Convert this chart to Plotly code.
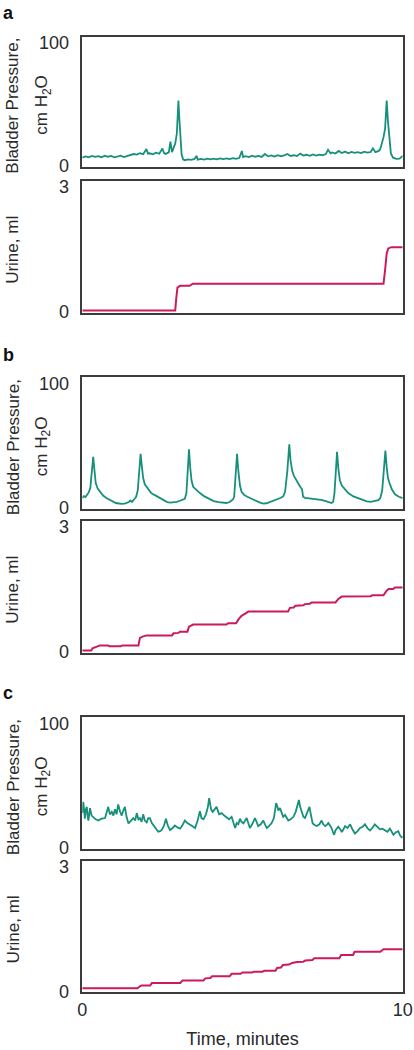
import plotly.graph_objects as go

# ---------------- data ----------------
# Panel a - bladder pressure (cm H2O)
a_p_t = [0.0, 0.1, 0.2, 0.3, 0.4, 0.5, 0.6, 0.7, 0.8, 0.9, 1.0, 1.1, 1.2, 1.3, 1.4, 1.5, 1.6, 1.7, 1.8, 1.9,
         2.0, 2.05, 2.1, 2.2, 2.3, 2.4, 2.5, 2.55, 2.6, 2.7, 2.75, 2.8, 2.85, 2.9, 2.95, 3.0, 3.03, 3.06, 3.1, 3.15,
         3.2, 3.3, 3.4, 3.5, 3.57, 3.6, 3.7, 3.8, 3.9, 4.0, 4.1, 4.2, 4.3, 4.4, 4.5, 4.6, 4.7, 4.8, 4.9, 4.98,
         5.02, 5.1, 5.2, 5.3, 5.4, 5.5, 5.6, 5.7, 5.8, 5.9, 6.0, 6.1, 6.2, 6.3, 6.4, 6.5, 6.6, 6.7, 6.8, 6.9,
         7.0, 7.1, 7.2, 7.3, 7.4, 7.5, 7.6, 7.67, 7.75, 7.8, 7.9, 8.0, 8.1, 8.2, 8.3, 8.4, 8.5, 8.6, 8.7, 8.8,
         8.9, 9.0, 9.07, 9.15, 9.25, 9.3, 9.35, 9.4, 9.45, 9.5, 9.54, 9.58, 9.63, 9.7, 9.8, 9.9, 10.0]
a_p_v = [6.5, 7.5, 6.8, 8.0, 7.2, 7.8, 6.9, 8.2, 7.3, 7.9, 6.8, 7.6, 8.1, 7.0, 7.7, 8.3, 9.5, 9.0, 10.2, 9.4,
         13.5, 9.8, 10.1, 9.3, 10.6, 9.7, 14.0, 10.2, 9.6, 10.8, 19.5, 11.0, 14.0, 18.0, 26.0, 53.0, 38.0, 28.0, 9.0, 5.0,
         4.5, 5.2, 4.8, 5.5, 8.0, 5.0, 5.6, 4.9, 5.7, 5.1, 5.8, 5.2, 6.0, 5.3, 5.9, 5.4, 6.1, 5.6, 6.4, 12.0,
         7.0, 7.8, 7.0, 8.2, 7.3, 8.0, 7.1, 9.5, 7.6, 8.3, 7.4, 8.6, 7.7, 8.4, 9.6, 7.9, 8.5, 7.8, 9.8, 8.2,
         8.9, 8.0, 9.2, 8.3, 9.0, 8.5, 9.4, 13.0, 10.0, 10.8, 9.9, 12.0, 10.3, 11.5, 10.1, 11.2, 10.4, 11.0, 10.2, 11.4,
         10.6, 11.1, 14.0, 11.0, 12.0, 13.5, 18.0, 23.0, 30.0, 53.0, 36.0, 22.0, 10.0, 6.5, 5.5, 5.8, 8.0]

# Panel a - urine (ml)
a_u_t = [0.0, 2.9, 2.93, 2.97, 3.05, 3.35, 3.45, 9.4, 9.45, 9.5, 9.55, 9.65, 10.0]
a_u_v = [0.03, 0.03, 0.3, 0.58, 0.62, 0.62, 0.67, 0.67, 1.0, 1.4, 1.52, 1.55, 1.55]

# Panel b - bladder pressure
b_p_t = [0.0, 0.05, 0.1, 0.15, 0.2, 0.25, 0.3, 0.34, 0.38, 0.42, 0.48, 0.55, 0.65, 0.75, 0.85, 0.95, 1.05, 1.15,
         1.25, 1.35, 1.45, 1.5, 1.55, 1.62, 1.68, 1.73, 1.78, 1.82, 1.86, 1.9, 1.95, 2.05, 2.15, 2.25, 2.35, 2.45,
         2.55, 2.65, 2.75, 2.85, 2.95, 3.05, 3.15, 3.2, 3.25, 3.29, 3.33, 3.37, 3.41, 3.46, 3.55, 3.67, 3.8, 3.95,
         4.1, 4.25, 4.4, 4.5, 4.6, 4.7, 4.74, 4.78, 4.83, 4.87, 4.92, 4.97, 5.05, 5.15, 5.25, 5.4, 5.55, 5.65,
         5.75, 5.85, 5.95, 6.05, 6.12, 6.2, 6.27, 6.33, 6.4, 6.46, 6.5, 6.55, 6.6, 6.7, 6.8, 6.86, 6.89, 6.95,
         7.1, 7.3, 7.45, 7.6, 7.7, 7.78, 7.83, 7.87, 7.91, 7.95, 7.99, 8.04, 8.1, 8.2, 8.3, 8.46, 8.6, 8.75,
         8.88, 9.0, 9.12, 9.24, 9.3, 9.36, 9.41, 9.46, 9.5, 9.54, 9.58, 9.66, 9.76, 9.88, 10.0]
b_p_v = [8.0, 9.5, 8.8, 11.0, 12.5, 16.0, 28.0, 41.0, 30.0, 20.0, 15.5, 13.0, 10.0, 8.0, 6.5, 5.0, 4.0, 3.6,
         3.3, 3.8, 4.8, 6.0, 4.9, 7.0, 9.0, 14.0, 27.0, 43.5, 33.0, 24.0, 19.0, 15.0, 12.0, 10.5, 9.0, 7.2,
         5.8, 4.8, 4.3, 4.6, 5.0, 5.8, 6.8, 7.4, 12.0, 28.0, 47.0, 32.0, 22.0, 17.0, 14.5, 12.0, 9.5, 7.3,
         5.6, 4.8, 4.2, 4.0, 4.8, 6.8, 9.0, 25.0, 43.5, 30.0, 18.0, 13.0, 10.5, 9.0, 8.0, 6.0, 4.3, 3.5,
         3.8, 4.7, 5.8, 6.8, 7.5, 8.2, 9.3, 13.0, 30.0, 51.0, 38.0, 30.0, 26.0, 21.0, 17.0, 15.0, 9.0, 8.2,
         7.8, 7.0, 6.5, 5.5, 4.5, 4.0, 5.0, 12.0, 28.0, 45.0, 32.0, 22.0, 18.0, 14.5, 12.0, 9.3, 8.0, 6.5,
         5.3, 5.0, 5.5, 6.3, 8.0, 14.0, 30.0, 46.0, 33.0, 24.0, 20.7, 15.0, 11.0, 9.0, 8.0]

# Panel b - urine
b_u_t = [0.0, 0.28, 0.32, 0.4, 0.48, 0.55, 0.8, 0.85, 1.2, 1.25, 1.75, 1.8, 1.88, 2.01, 2.8, 2.85, 3.0, 3.05,
         3.28, 3.33, 3.46, 4.5, 4.55, 4.8, 4.88, 4.97, 5.1, 5.18, 6.42, 6.48, 6.6, 6.65, 6.9, 6.95, 7.1, 7.16,
         7.9, 8.0, 8.1, 9.0, 9.05, 9.4, 9.5, 9.56, 9.7, 9.76, 10.0]
b_u_v = [0.03, 0.03, 0.08, 0.11, 0.13, 0.15, 0.15, 0.13, 0.13, 0.15, 0.15, 0.33, 0.36, 0.39, 0.39, 0.44, 0.45, 0.48,
         0.48, 0.6, 0.65, 0.65, 0.68, 0.68, 0.78, 0.86, 0.92, 0.96, 0.96, 1.05, 1.06, 1.1, 1.11, 1.14, 1.15, 1.18,
         1.18, 1.27, 1.32, 1.33, 1.35, 1.35, 1.46, 1.5, 1.5, 1.54, 1.54]

# Panel c - bladder pressure
c_p_t = [0.0, 0.03, 0.06, 0.08, 0.11, 0.14, 0.17, 0.19, 0.22, 0.24, 0.29, 0.34, 0.42, 0.5, 0.6, 0.71, 0.76, 0.81,
         0.86, 0.92, 0.97, 1.02, 1.07, 1.12, 1.18, 1.23, 1.28, 1.33, 1.38, 1.44, 1.52, 1.59, 1.65, 1.7, 1.75, 1.8,
         1.85, 1.9, 1.95, 2.01, 2.06, 2.11, 2.17, 2.22, 2.3, 2.37, 2.43, 2.48, 2.55, 2.61, 2.67, 2.74, 2.82, 2.89,
         2.97, 3.05, 3.12, 3.2, 3.28, 3.36, 3.44, 3.52, 3.6, 3.67, 3.72, 3.78, 3.86, 3.92, 3.96, 4.02, 4.07, 4.13,
         4.19, 4.27, 4.35, 4.43, 4.51, 4.58, 4.66, 4.72, 4.77, 4.82, 4.87, 4.92, 4.97, 5.03, 5.08, 5.13, 5.18, 5.23,
         5.3, 5.39, 5.44, 5.49, 5.57, 5.65, 5.7, 5.76, 5.84, 5.91, 5.98, 6.05, 6.09, 6.12, 6.17, 6.22, 6.27, 6.33,
         6.38, 6.43, 6.5, 6.59, 6.66, 6.72, 6.76, 6.8, 6.85, 6.9, 6.95, 7.02, 7.09, 7.14, 7.19, 7.25, 7.32, 7.4,
         7.47, 7.52, 7.58, 7.63, 7.68, 7.73, 7.78, 7.82, 7.86, 7.9, 7.99, 8.05, 8.1, 8.15, 8.2, 8.28, 8.36, 8.43,
         8.51, 8.59, 8.67, 8.75, 8.82, 8.9, 8.98, 9.05, 9.13, 9.21, 9.29, 9.37, 9.45, 9.52, 9.6, 9.66, 9.71, 9.78,
         9.86, 9.92, 9.97, 10.0]
c_p_v = [28.0, 37.0, 30.0, 23.5, 31.0, 33.0, 25.0, 22.0, 28.0, 32.0, 26.0, 24.5, 23.0, 22.0, 23.5, 24.0, 28.0, 33.0,
         27.0, 29.0, 26.0, 31.0, 27.0, 35.0, 29.0, 26.0, 30.0, 33.0, 25.0, 19.7, 22.0, 24.0, 22.0, 28.0, 23.0, 24.0,
         21.0, 27.0, 22.0, 20.5, 24.0, 24.0, 20.0, 18.0, 15.0, 13.0, 13.5, 14.5, 18.0, 23.5, 18.0, 14.4, 16.0, 18.0,
         16.5, 15.5, 18.0, 22.0, 20.0, 19.0, 17.5, 16.0, 22.0, 29.6, 24.0, 23.0, 27.0, 33.0, 40.0, 31.0, 29.0, 31.0,
         33.0, 27.0, 28.0, 26.0, 24.5, 23.0, 25.0, 20.0, 16.0, 20.0, 19.0, 23.5, 21.0, 19.7, 22.0, 24.0, 20.0, 16.0,
         19.0, 24.0, 21.0, 17.6, 19.0, 22.0, 19.0, 16.0, 18.0, 20.0, 24.0, 36.0, 33.0, 30.0, 32.0, 28.0, 25.0, 26.5,
         24.0, 22.0, 23.0, 25.0, 29.0, 34.0, 38.5, 33.0, 28.0, 25.0, 24.0, 29.0, 33.0, 26.0, 19.7, 18.5, 17.6, 19.0,
         22.0, 19.0, 17.6, 18.5, 20.0, 18.0, 16.0, 13.0, 10.6, 14.0, 17.0, 15.0, 12.7, 15.0, 17.6, 16.0, 19.0, 15.0,
         11.6, 13.5, 16.0, 17.0, 19.0, 16.0, 14.0, 16.0, 19.0, 17.0, 15.0, 15.5, 14.0, 13.0, 15.5, 13.0, 10.6, 12.5,
         13.5, 10.0, 8.6, 9.0]

# Panel c - urine
c_u_t = [0.0, 1.72, 1.8, 1.85, 2.12, 2.17, 3.06, 3.13, 3.78, 3.84, 4.0, 4.05, 4.6, 4.66, 4.94, 5.0, 5.3, 5.36,
         5.62, 5.68, 6.03, 6.08, 6.2, 6.26, 6.45, 6.55, 6.7, 6.9, 6.96, 7.18, 7.24, 8.02, 8.08, 8.45, 8.5, 9.3,
         9.4, 10.0]
c_u_v = [0.07, 0.07, 0.12, 0.14, 0.14, 0.2, 0.2, 0.26, 0.26, 0.31, 0.32, 0.36, 0.36, 0.42, 0.42, 0.45, 0.45, 0.47,
         0.47, 0.49, 0.49, 0.56, 0.57, 0.63, 0.64, 0.68, 0.7, 0.71, 0.74, 0.75, 0.79, 0.79, 0.87, 0.87, 0.95, 0.95,
         1.01, 1.01]

panel_letters = ["a", "b", "c"]
pressure_ticks = [0, 100]
urine_ticks = [0, 3]
time_ticks = [0, 10]
pressure_title = "Bladder Pressure,"
pressure_title2 = "cm H<sub>2</sub>O"
urine_title = "Urine, ml"
time_title = "Time, minutes"

# ---------------- styling / layout ----------------
W, H = 414, 1050
TEAL = "#17907b"
MAGENTA = "#cc1a5e"
AXC = "#3c3c3c"
TXT = "#2a2a2a"
FONT = "Liberation Sans"

X0, X1 = 82.3, 402.7
# (top_px, bottom_px) for the six boxes, in page pixels
boxes = [(36.7, 166.7), (181.0, 312.7), (377.3, 509.0), (520.7, 652.7), (717.3, 849.0), (860.5, 992.3)]
letter_y = [13, 355, 693]
P_RANGE = [-0.8, 104.8]
U_RANGE = [-0.025, 3.14]


def px(p):
    return p / W


def py(p):
    return 1 - p / H


series = [(a_p_t, a_p_v, TEAL, 1.8), (a_u_t, a_u_v, MAGENTA, 2.0),
          (b_p_t, b_p_v, TEAL, 1.8), (b_u_t, b_u_v, MAGENTA, 2.0),
          (c_p_t, c_p_v, TEAL, 1.8), (c_u_t, c_u_v, MAGENTA, 2.0)]

fig = go.Figure()
layout = dict(width=W, height=H, margin=dict(l=0, r=0, t=0, b=0),
              paper_bgcolor="white", plot_bgcolor="white", showlegend=False,
              font=dict(family=FONT, size=18, color=TXT))
annotations = []

for i, (t, v, col, lw) in enumerate(series):
    n = i + 1
    xa = "x" if n == 1 else f"x{n}"
    ya = "y" if n == 1 else f"y{n}"
    fig.add_trace(go.Scatter(x=t, y=v, mode="lines", line=dict(color=col, width=lw),
                             xaxis=xa, yaxis=ya, hoverinfo="skip"))
    top, bot = boxes[i]
    is_pressure = (i % 2 == 0)
    last = (n == 6)
    xkey = "xaxis" if n == 1 else f"xaxis{n}"
    ykey = "yaxis" if n == 1 else f"yaxis{n}"
    layout[xkey] = dict(domain=[px(X0), px(X1)], range=[0, 10], anchor=ya,
                        showline=True, mirror=True, linecolor=AXC, linewidth=1.5,
                        showgrid=False, zeroline=False, ticks="",
                        tickvals=time_ticks, showticklabels=last,
                        tickfont=dict(family=FONT, size=18, color=TXT),
                        ticklabelstandoff=0, automargin=False, fixedrange=True)
    if last:
        layout[xkey]["title"] = dict(text=time_title, standoff=14,
                                     font=dict(family=FONT, size=18, color=TXT))
    ticks = pressure_ticks if is_pressure else urine_ticks
    rng = P_RANGE if is_pressure else U_RANGE
    layout[ykey] = dict(domain=[py(bot), py(top)], range=rng, anchor=xa,
                        showline=True, mirror=True, linecolor=AXC, linewidth=1.5,
                        showgrid=False, zeroline=False, ticks="",
                        tickvals=ticks, ticktext=[str(k) for k in ticks],
                        tickfont=dict(family=FONT, size=18, color=TXT),
                        ticklabelstandoff=8, automargin=False, fixedrange=True)
    mid = (top + bot) / 2
    if is_pressure:
        annotations.append(dict(text=pressure_title, x=px(13), y=py(mid + 4), xref="paper", yref="paper",
                                textangle=-90, showarrow=False, xanchor="center", yanchor="middle",
                                font=dict(family=FONT, size=17, color=TXT)))
        annotations.append(dict(text=pressure_title2, x=px(43), y=py(mid + 3), xref="paper", yref="paper",
                                textangle=-90, showarrow=False, xanchor="center", yanchor="middle",
                                font=dict(family=FONT, size=17, color=TXT)))
        annotations.append(dict(text="<b>" + panel_letters[i // 2] + "</b>", x=px(8), y=py(letter_y[i // 2]),
                                xref="paper", yref="paper", showarrow=False,
                                xanchor="center", yanchor="middle",
                                font=dict(family=FONT, size=18, color="#111")))
    else:
        annotations.append(dict(text=urine_title, x=px(13), y=py(mid + 3), xref="paper", yref="paper",
                                textangle=-90, showarrow=False, xanchor="center", yanchor="middle",
                                font=dict(family=FONT, size=17, color=TXT)))

layout["annotations"] = annotations
fig.update_layout(**layout)
# the html page's default 8px body margin would shift the figure; remove it
fig.write_html("out.html", config={"displayModeBar": False},
               post_script="document.body.style.margin='0';")
